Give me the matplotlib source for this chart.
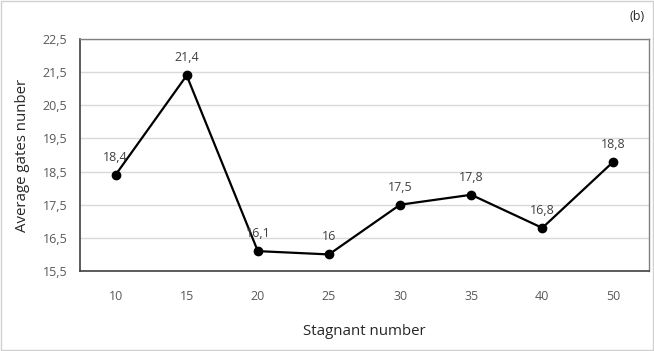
import matplotlib
matplotlib.use("Agg")
import matplotlib.pyplot as plt
from matplotlib.patches import Rectangle

categories = ["10", "15", "20", "25", "30", "35", "40", "50"]
values = [18.4, 21.4, 16.1, 16.0, 17.5, 17.8, 16.8, 18.8]
value_labels = ["18,4", "21,4", "16,1", "16", "17,5", "17,8", "16,8", "18,8"]
y_ticks = [15.5, 16.5, 17.5, 18.5, 19.5, 20.5, 21.5, 22.5]
y_tick_labels = ["15,5", "16,5", "17,5", "18,5", "19,5", "20,5", "21,5", "22,5"]

plt.rcParams['font.family'] = ['Open Sans', 'DejaVu Sans']

fig = plt.figure(figsize=(6.54, 3.51), dpi=100)
ax = fig.add_axes([80/654, 1-271/351, (649-80)/654, (271-39)/351])

x = list(range(len(categories)))
ax.plot(x, values, color='black', lw=1.6, marker='o', markersize=6, zorder=3)
for xi, v, lab in zip(x, values, value_labels):
    ax.annotate(lab, (xi, v), xytext=(0, 8), textcoords='offset points',
                ha='center', va='bottom', fontsize=9, color='#404040')

ax.set_xlim(-0.5, len(categories) - 0.5)
ax.set_ylim(15.5, 22.5)
ax.set_xticks(x)
ax.set_xticklabels(categories)
ax.set_yticks(y_ticks)
ax.set_yticklabels(y_tick_labels)
ax.tick_params(axis='both', length=0, labelsize=9, colors='#595959')
ax.tick_params(axis='x', pad=14)
ax.tick_params(axis='y', pad=9)
ax.yaxis.grid(True, color='#d9d9d9', lw=1)
ax.set_axisbelow(True)
for s in ['left', 'bottom']:
    ax.spines[s].set_color('#404040')
    ax.spines[s].set_linewidth(1.2)
for s in ['top', 'right']:
    ax.spines[s].set_color('#808080')
    ax.spines[s].set_linewidth(1.0)

ax.set_xlabel("Stagnant number", fontsize=10.8, color='#262626', labelpad=15)
ax.set_ylabel("Average gates nunber", fontsize=10.8, color='#262626', labelpad=9)

fig.text(637/654, 1-16/351, "(b)", ha='center', va='center', fontsize=9, color='#262626')
fig.patches.append(Rectangle((0.002, 0.003), 0.996, 0.994, transform=fig.transFigure,
                             fill=False, edgecolor='#d0d0d0', lw=1))

fig.savefig("out.png", dpi=100)
